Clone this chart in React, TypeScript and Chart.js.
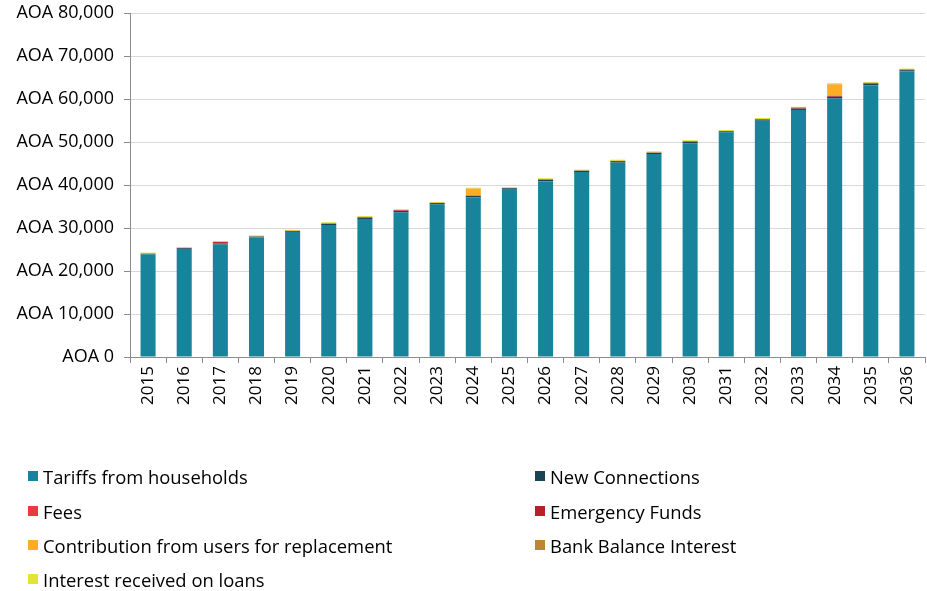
import React, { useEffect, useRef } from "react";
import { Chart, registerables } from "chart.js";

Chart.register(...registerables);

const years = ["2015","2016","2017","2018","2019","2020","2021","2022","2023","2024","2025","2026","2027","2028","2029","2030","2031","2032","2033","2034","2035","2036"];

const tariffs = [23900,25100,26150,27800,29100,30700,32100,33650,35500,37100,38900,40900,43000,45200,47200,49700,52250,54950,57450,60100,63200,66400];
const newConnections = [100,200,250,200,200,300,300,300,300,400,350,350,300,350,300,350,250,300,300,400,350,300];
const fees = [30,30,30,30,30,30,30,30,30,30,30,30,30,30,30,30,30,30,30,30,30,30];
const emergencyFunds = [0,0,300,0,0,0,100,150,0,0,0,0,0,0,0,100,0,0,200,200,150,100];
const contribution = [0,0,0,0,0,0,0,0,0,1600,0,0,0,0,0,0,0,0,0,2700,0,0];
const bankInterest = [50,50,50,50,50,50,50,50,50,50,50,50,50,50,50,50,50,50,50,50,50,50];
const loanInterest = [200,200,200,200,200,250,200,200,200,200,150,250,200,250,250,200,200,250,150,200,200,200];

const yTicks = [0,10000,20000,30000,40000,50000,60000,70000,80000];

const series = [
  { label: "Tariffs from households", data: tariffs, color: "#17849B" },
  { label: "New Connections", data: newConnections, color: "#1A4452" },
  { label: "Fees", data: fees, color: "#EE3840" },
  { label: "Emergency Funds", data: emergencyFunds, color: "#B52228" },
  { label: "Contribution from users for replacement", data: contribution, color: "#FBAE24" },
  { label: "Bank Balance Interest", data: bankInterest, color: "#B8892E" },
  { label: "Interest received on loans", data: loanInterest, color: "#E4E33A" },
];

const legendFont = "'Open Sans', sans-serif";

export default function App() {
  const ref = useRef<HTMLCanvasElement | null>(null);

  useEffect(() => {
    document.body.style.margin = "0";
    const ctx = ref.current!;
    const chart = new Chart(ctx, {
      type: "bar",
      data: {
        labels: years,
        datasets: series.map((s) => ({
          label: s.label,
          data: s.data,
          backgroundColor: s.color,
          borderWidth: 0,
          categoryPercentage: 0.8,
          barPercentage: 0.52,
        })),
      },
      options: {
        animation: false,
        responsive: false,
        maintainAspectRatio: false,
        layout: { padding: { top: 13, right: 2, left: 0, bottom: 0 } },
        plugins: { legend: { display: false }, tooltip: { enabled: false } },
        scales: {
          x: {
            stacked: true,
            afterFit: (scale: any) => {
              scale.height = 234;
              scale.paddingLeft = 0;
              scale.paddingRight = 0;
            },
            grid: { display: true, drawOnChartArea: false, drawTicks: true, tickLength: 6, color: "#8c8c8c", offset: true },
            border: { display: true, color: "#8c8c8c", width: 1 },
            ticks: {
              minRotation: 90,
              maxRotation: 90,
              autoSkip: false,
              color: "#000000",
              padding: 3,
              font: { family: "'Open Sans', sans-serif", size: 17 },
            },
          },
          y: {
            stacked: true,
            min: 0,
            max: 80000,
            afterFit: (scale: any) => {
              scale.width = 130;
              scale.paddingTop = 0;
              scale.paddingBottom = 0;
            },
            afterBuildTicks: (scale: any) => { scale.ticks = yTicks.map((v) => ({ value: v })); },
            grid: { color: "#d9d9d9", tickLength: 6, tickColor: "#8c8c8c", lineWidth: 1 },
            border: { display: true, color: "#8c8c8c", width: 1 },
            ticks: {
              color: "#000000",
              padding: 10,
              font: { family: "'Open Sans', sans-serif", size: 18 },
              callback: (v: any) => "AOA " + Number(v).toLocaleString("en-US"),
            },
          },
        },
      },
    });
    return () => chart.destroy();
  }, []);

  const pos = [
    { left: 28, top: 476 },
    { left: 535, top: 476 },
    { left: 28, top: 511 },
    { left: 535, top: 511 },
    { left: 28, top: 545 },
    { left: 535, top: 545 },
    { left: 28, top: 579 },
  ];

  return (
    <div style={{ position: "relative", width: 927, height: 591, background: "#ffffff", overflow: "hidden" }}>
      <canvas ref={ref} width={927} height={591} style={{ position: "absolute", left: 0, top: 0 }} />
      {series.map((s, i) => (
        <div
          key={s.label}
          style={{
            position: "absolute",
            left: pos[i].left,
            top: pos[i].top - 13,
            height: 26,
            display: "flex",
            alignItems: "center",
            fontFamily: legendFont,
            fontSize: 18.4,
            color: "#000000",
            whiteSpace: "nowrap",
          }}
        >
          <span style={{ display: "inline-block", width: 10, height: 10, background: s.color, marginRight: 5 }} />
          <span>{s.label}</span>
        </div>
      ))}
    </div>
  );
}
